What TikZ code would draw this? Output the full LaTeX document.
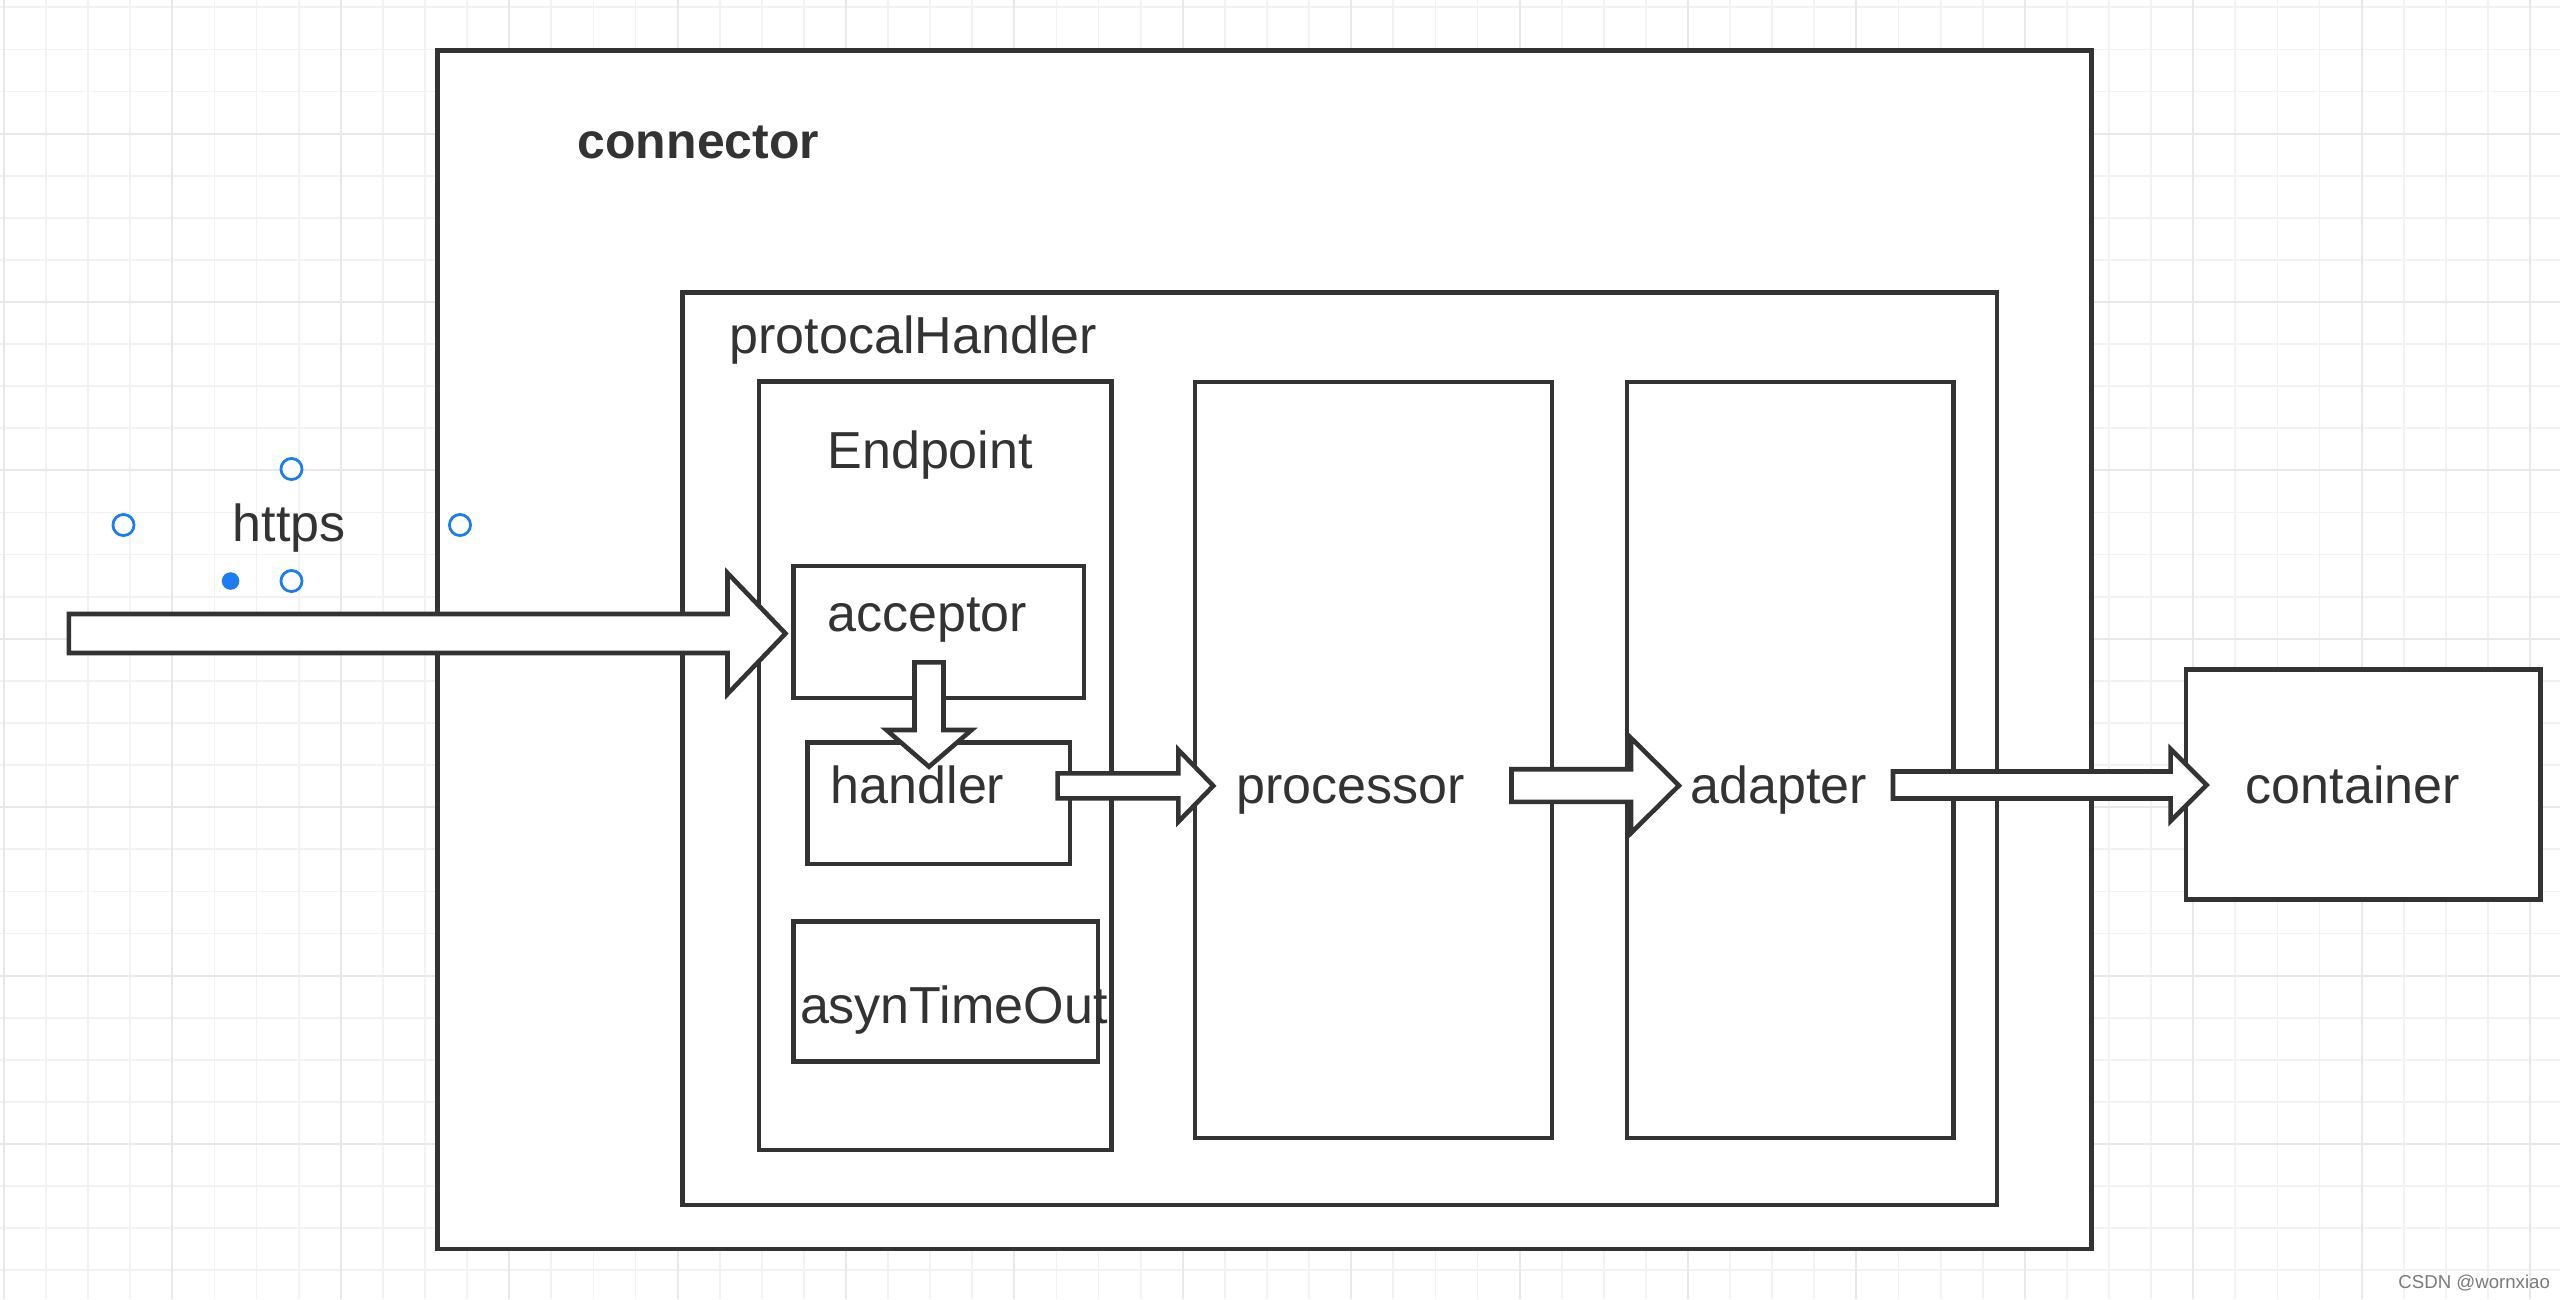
\documentclass[tikz,border=0pt]{standalone}
\usepackage{fontspec}
\setmainfont{Liberation Sans}
\usetikzlibrary{calc,fit}
\definecolor{ink}{HTML}{333333}
\definecolor{selblue}{HTML}{1E7CF2}
\definecolor{gminor}{HTML}{F2F2F2}
\definecolor{gmajor}{HTML}{E8E8E8}
\definecolor{wmark}{HTML}{7A7A7A}
\newcommand\harrowdraw[5]{\draw[blockarrow] ($(#1)+(0,-#3)$) -- ($(#2)+(-#5,-#3)$) -- ($(#2)+(-#5,-#4)$) -- (#2) -- ($(#2)+(-#5,#4)$) -- ($(#2)+(-#5,#3)$) -- ($(#1)+(0,#3)$) -- cycle;}
\newcommand\varrowdraw[5]{\draw[blockarrow] ($(#1)+(-#3,0)$) -- ($(#2)+(-#3,-#5)$) -- ($(#2)+(-#4,-#5)$) -- (#2) -- ($(#2)+(#4,-#5)$) -- ($(#2)+(#3,-#5)$) -- ($(#1)+(#3,0)$) -- cycle;}
\begin{document}
\begin{tikzpicture}[x=0.01cm,y=-0.01cm,
  box/.style={draw=ink,line width=1.3pt,fill=white,inner sep=0pt,rectangle},
  lbl/.style={inner sep=0pt,anchor=base west,text=ink,font=\fontsize{14.8pt}{18pt}\selectfont},
  blockarrow/.style={draw=ink,line width=1.3pt,fill=white,line join=miter},
  gridminor/.style={draw=gminor,line width=0.5pt},
  gridmajor/.style={draw=gmajor,line width=0.6pt},
  handle/.style={circle,draw=selblue,line width=0.8pt,fill=white,minimum size=6pt,inner sep=0pt},
  handlefill/.style={circle,fill=selblue,minimum size=5pt,inner sep=0pt}]
\useasboundingbox (0,0) rectangle (2560,1299);
\fill[white] (0,0) rectangle (2560,1299);
\begin{scope}
\clip (0,0) rectangle (2560,1299);
\foreach \i in {0,...,61} \draw[gridminor] ({4+42.1*\i},0) -- ({4+42.1*\i},1299);
\foreach \i in {0,...,30} \draw[gridminor] (0,{7.3+42.1*\i}) -- (2560,{7.3+42.1*\i});
\foreach \i in {0,...,15} \draw[gridmajor] ({4+168.4*\i},0) -- ({4+168.4*\i},1299);
\foreach \i in {0,...,7} \draw[gridmajor] (0,{133.6+168.4*\i}) -- (2560,{133.6+168.4*\i});
\end{scope}
% boxes
\node[box,fit={(437.6,50.6) (2091.5,1249)}] (conn) {};
\node[box,fit={(682.5,292.3) (1996.8,1205)}] (ph) {};
\node[box,fit={(759,381.7) (1111.7,1150)}] (ep) {};
\node[box,fit={(793.3,566) (1084,698)}] (acc) {};
\node[box,fit={(807.7,742.7) (1070,864)}] (hnd) {};
\node[box,fit={(793.3,921.7) (1098,1061.7)}] (asyn) {};
\node[box,fit={(1195,382) (1552,1138)}] (proc) {};
\node[box,fit={(1627,382) (1953.5,1138)}] (adp) {};
\node[box,fit={(2186,669.4) (2540.5,899.6)}] (cont) {};
% labels
\node[lbl,font=\fontsize{14.2pt}{17pt}\selectfont\bfseries] (connT) at (577,158.3) {connector};
\node[lbl] (phT) at (729,353.3) {protocalHandler};
\node[lbl] (epT) at (826.7,468.3) {Endpoint};
\node[lbl] (httpsT) at (232,541.7) {https};
\node[lbl] (accT) at (826.7,631.7) {acceptor};
\node[lbl] (hndT) at (830,803.3) {handler};
\node[lbl] (asynT) at (799.3,1023.3) {asynTimeOut};
\node[lbl] (procT) at (1236,803.3) {processor};
\node[lbl] (adpT) at (1690,803.3) {adapter};
\node[lbl] (contT) at (2245,803.3) {container};
% arrow end points
\coordinate (a1s) at (68.8,633.5);
\coordinate (a1t) at (785.5,633.5);
\coordinate (a2s) at (929,662.3);
\coordinate (a2t) at (929,766.7);
\coordinate (a3s) at (1057.7,785.8);
\coordinate (a3t) at (1213.3,785.8);
\coordinate (a4s) at (1511.5,785.5);
\coordinate (a4t) at (1679,785.5);
\coordinate (a5s) at (1893,785);
\coordinate (a5t) at (2206.6,785);
\harrowdraw{a1s}{a1t}{19.5}{60.5}{58}
\varrowdraw{a2s}{a2t}{14.5}{42.5}{36.7}
\harrowdraw{a3s}{a3t}{12.5}{36}{35}
\harrowdraw{a4s}{a4t}{16.3}{47.5}{48}
\harrowdraw{a5s}{a5t}{13.5}{36}{36}
% selection handles
\node[handle] (hT) at (291.5,469) {};
\node[handle] (hL) at (123.5,525) {};
\node[handle] (hR) at (460,525) {};
\node[handle] (hB) at (291.5,581) {};
\node[handlefill] (hF) at (230.6,581) {};
% watermark
\node[inner sep=0pt,anchor=base west,text=wmark,font=\fontsize{5.3pt}{6pt}\selectfont] (wm) at (2397.7,1288.3) {CSDN @wornxiao};
\end{tikzpicture}
\end{document}
